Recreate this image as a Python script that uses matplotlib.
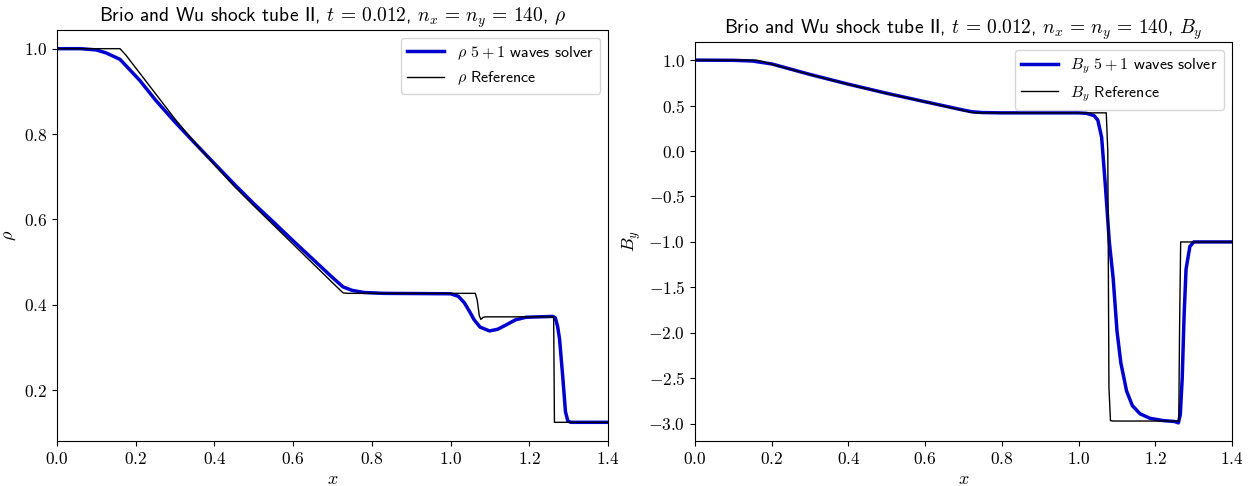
import matplotlib
matplotlib.use('Agg')
import matplotlib.pyplot as plt
from matplotlib.ticker import FuncFormatter

plt.rcParams['font.family'] = ['cmss10', 'DejaVu Sans']
plt.rcParams['mathtext.fontset'] = 'cm'
plt.rcParams['axes.unicode_minus'] = True

# density, reference solution
rho_ref_x = [0.0, 0.16, 0.175, 0.2, 0.25, 0.3, 0.35, 0.4, 0.45, 0.5, 0.55, 0.6, 0.65, 0.7,
             0.727, 0.74, 1.063, 1.068, 1.073, 1.077, 1.083, 1.09, 1.262, 1.264, 1.4]
rho_ref_y = [1.0, 1.0, 0.985, 0.955, 0.895, 0.835, 0.78, 0.728, 0.678, 0.632, 0.587, 0.542, 0.497, 0.452,
             0.428, 0.427, 0.427, 0.41, 0.375, 0.366, 0.371, 0.372, 0.372, 0.125, 0.125]
# density, 5+1 waves solver
rho_num_x = [0.0, 0.06, 0.1, 0.125, 0.16, 0.21, 0.25, 0.3, 0.35, 0.4, 0.45, 0.5, 0.55, 0.6, 0.65, 0.7,
             0.727, 0.75, 0.78, 0.83, 1.0, 1.02, 1.035, 1.048, 1.06, 1.075, 1.099, 1.12, 1.141, 1.165,
             1.192, 1.26, 1.266, 1.272, 1.277, 1.285, 1.292, 1.298, 1.306, 1.4]
rho_num_y = [1.0, 1.0, 0.997, 0.99, 0.975, 0.926, 0.88, 0.828, 0.779, 0.731, 0.683, 0.637, 0.594, 0.55,
             0.507, 0.464, 0.442, 0.434, 0.429, 0.427, 0.426, 0.42, 0.405, 0.385, 0.365, 0.348, 0.339,
             0.343, 0.353, 0.365, 0.371, 0.373, 0.37, 0.35, 0.32, 0.233, 0.15, 0.128, 0.125, 0.125]

# By, reference solution
by_ref_x = [0.0, 0.16, 0.175, 0.2, 0.3, 0.4, 0.5, 0.6, 0.7, 0.722, 0.735, 1.072, 1.076, 1.079,
            1.083, 1.09, 1.261, 1.263, 1.266, 1.4]
by_ref_y = [1.0, 1.0, 0.985, 0.955, 0.84, 0.733, 0.633, 0.54, 0.445, 0.424, 0.42, 0.42, 0.0, -2.6,
            -2.965, -2.97, -2.97, -2.0, -1.0, -1.0]
# By, 5+1 waves solver
by_num_x = [0.0, 0.1, 0.15, 0.2, 0.3, 0.4, 0.5, 0.6, 0.7, 0.722, 0.75, 0.8, 1.0, 1.02, 1.04, 1.05,
            1.06, 1.07, 1.08, 1.09, 1.1, 1.11, 1.125, 1.14, 1.16, 1.186, 1.22, 1.25, 1.26, 1.265,
            1.27, 1.275, 1.28, 1.29, 1.3, 1.4]
by_num_y = [1.0, 0.998, 0.99, 0.958, 0.842, 0.735, 0.635, 0.542, 0.45, 0.432, 0.423, 0.42, 0.42,
            0.415, 0.39, 0.34, 0.15, -0.4, -1.0, -1.4, -1.98, -2.33, -2.64, -2.8, -2.89, -2.94,
            -2.965, -2.975, -2.99, -2.9, -2.5, -1.8, -1.3, -1.05, -1.0, -1.0]

title_base = r'Brio and Wu shock tube II, $t\,=\,0.012$, $n_x\,=\,n_y\,=\,140$, '

fig = plt.figure(figsize=(12.53, 4.86), dpi=100)
ax1 = fig.add_axes([0.0455, 0.0926, 0.4397, 0.8457])
ax2 = fig.add_axes([0.5547, 0.0926, 0.4286, 0.821])

fmt = FuncFormatter(lambda v, p: r'$%.1f$' % v)
blue = '#0000cd'

ax1.plot(rho_num_x, rho_num_y, color=blue, lw=2.5, label=r'$\rho$ $5+1$ waves solver')
ax1.plot(rho_ref_x, rho_ref_y, color='k', lw=1, label=r'$\rho$ Reference')
ax1.set_title(title_base + r'$\rho$', fontsize=14)
ax1.set_ylabel(r'$\rho$', fontsize=13)
ax1.set_yticks([0.2, 0.4, 0.6, 0.8, 1.0])

ax2.plot(by_num_x, by_num_y, color=blue, lw=2.5, label=r'$B_y$ $5+1$ waves solver')
ax2.plot(by_ref_x, by_ref_y, color='k', lw=1, label=r'$B_y$ Reference')
ax2.set_title(title_base + r'$B_y$', fontsize=14)
ax2.set_ylabel(r'$B_y$', fontsize=13)

for ax in (ax1, ax2):
    ax.set_xlim(0, 1.4)
    ax.set_xlabel(r'$x$', fontsize=13)
    ax.xaxis.set_major_formatter(fmt)
    ax.yaxis.set_major_formatter(fmt)
    ax.tick_params(labelsize=12.5)
    ax.legend(loc='upper right', fontsize=11.5, handlelength=2.3)

fig.savefig('out.png', dpi=100)
